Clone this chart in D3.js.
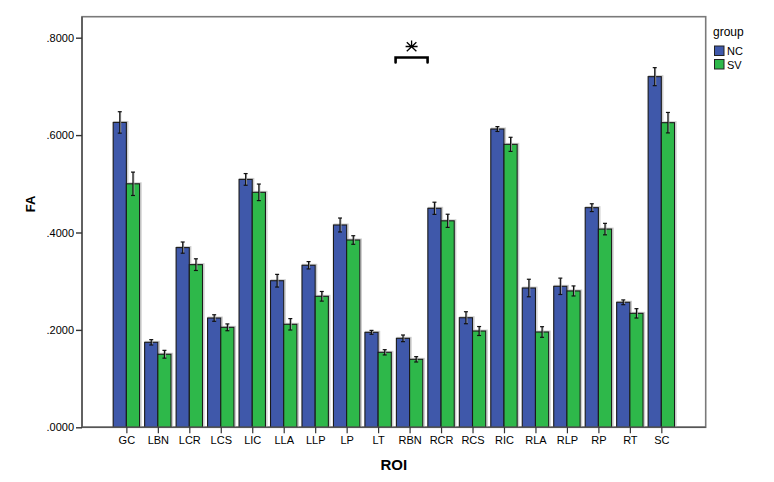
<!DOCTYPE html>
<html><head><meta charset="utf-8">
<script src="https://cdn.jsdelivr.net/npm/d3@7"></script>
<style>body{margin:0;background:#fff}svg{display:block}text{font-family:"Liberation Sans",Arial,sans-serif}</style>
</head><body>
<script>
const categories = ["GC","LBN","LCR","LCS","LIC","LLA","LLP","LP","LT","RBN","RCR","RCS","RIC","RLA","RLP","RP","RT","SC"];
const groups = ["NC","SV"];
const ncMean = [0.626,0.1745,0.369,0.2244,0.509,0.301,0.3327,0.4154,0.195,0.1827,0.4497,0.225,0.6125,0.286,0.2895,0.451,0.2567,0.720];
const ncErr  = [0.022,0.0055,0.0115,0.0067,0.012,0.013,0.0075,0.0143,0.004,0.0068,0.0125,0.0123,0.005,0.018,0.0168,0.008,0.0049,0.0185];
const svMean = [0.500,0.150,0.334,0.2053,0.4825,0.2115,0.269,0.3846,0.154,0.1396,0.424,0.1977,0.581,0.1957,0.280,0.407,0.234,0.6255];
const svErr  = [0.024,0.008,0.012,0.007,0.017,0.0117,0.0099,0.0088,0.0054,0.0055,0.0135,0.0092,0.0145,0.0109,0.0103,0.0118,0.0096,0.021];
const yTicks = [0,0.2,0.4,0.6,0.8];
const sigCategory = "RBN";

const W=774,H=482;
const L=82,R=705.7,T=16.7,B=427.3;
const svg=d3.select("body").append("svg").attr("width",W).attr("height",H);
const x=d3.scalePoint().domain(categories).range([L,R]).padding(1.41);
const y=d3.scaleLinear().domain([0,0.8431]).range([B,T]);
const bw=13.2;
const colors={NC:"#3f58aa",SV:"#2eb84a"};

// frame
svg.append("rect").attr("x",L).attr("y",T).attr("width",R-L).attr("height",B-T)
  .attr("fill","none").attr("stroke","#7a7a7a").attr("stroke-width",1.6);

const data=[];
categories.forEach((c,i)=>{
  data.push({c,g:"NC",m:ncMean[i],e:ncErr[i],off:-bw});
  data.push({c,g:"SV",m:svMean[i],e:svErr[i],off:0});
});

// shadows
svg.append("g").selectAll("rect").data(data).join("rect")
  .attr("x",d=>x(d.c)+d.off+0.8).attr("y",d=>y(d.m)-0.8)
  .attr("width",bw+0.6).attr("height",d=>B-y(d.m)+0.8)
  .attr("fill","none").attr("stroke","#cdcdcd").attr("stroke-width",1.4);
// bars
svg.append("g").selectAll("rect").data(data).join("rect")
  .attr("x",d=>x(d.c)+d.off).attr("y",d=>y(d.m))
  .attr("width",bw).attr("height",d=>B-y(d.m))
  .attr("fill",d=>colors[d.g]).attr("stroke","#1a1a1a").attr("stroke-width",1.1);

// error bars
const eg=svg.append("g").attr("stroke","#111").attr("stroke-width",1.2);
data.forEach(d=>{
  const cx=x(d.c)+d.off+bw/2;
  eg.append("line").attr("x1",cx+0.8).attr("x2",cx+0.8).attr("y1",y(d.m+d.e)).attr("y2",y(d.m-d.e)).attr("stroke","#aaa").attr("stroke-width",1.2);
  eg.append("line").attr("x1",cx).attr("x2",cx).attr("y1",y(d.m+d.e)).attr("y2",y(d.m-d.e));
  [d.m+d.e,d.m-d.e].forEach(v=>eg.append("line").attr("x1",cx-2).attr("x2",cx+2).attr("y1",y(v)).attr("y2",y(v)));
});

// y axis
const ya=svg.append("g").attr("transform",`translate(${L},0)`)
  .call(d3.axisLeft(y).tickValues(yTicks).tickSize(6).tickPadding(2).tickFormat(d=>d3.format(".4f")(d).replace(/^0/,"")));
ya.select(".domain").attr("stroke","#555").attr("stroke-width",1.6).attr("d",`M0,${T}V${B}`);
ya.selectAll(".tick line").attr("stroke","#333").attr("stroke-width",1.4);
ya.selectAll(".tick text").attr("font-size",11).attr("fill","#000").attr("font-family","Liberation Sans, Arial, sans-serif");

// x axis
const xa=svg.append("g").attr("transform",`translate(0,${B})`)
  .call(d3.axisBottom(x).tickSize(6).tickPadding(3));
xa.select(".domain").attr("stroke","#555").attr("stroke-width",1.6).attr("d",`M${L},0H${R}`);
xa.selectAll(".tick line").attr("stroke","#333").attr("stroke-width",1.2);
xa.selectAll(".tick text").attr("font-size",11).attr("fill","#000").attr("font-family","Liberation Sans, Arial, sans-serif");

// axis titles
svg.append("text").attr("x",(L+R)/2).attr("y",470).attr("text-anchor","middle")
  .attr("font-size",15).attr("font-weight","bold").text("ROI");
svg.append("text").attr("transform","translate(35,204) rotate(-90)").attr("text-anchor","middle")
  .attr("font-size",13).attr("font-weight","bold").text("FA");

// significance bracket
const sx=x(sigCategory)+2;
const bx0=sx-16,bx1=sx+16,byy=57.5;
svg.append("path").attr("d",`M${bx0},${byy+5}V${byy}H${bx1}V${byy+5}`)
  .attr("fill","none").attr("stroke","#000").attr("stroke-width",2.6).attr("stroke-linecap","round");
// asterisk glyph
const ax=sx, ay=46.5, r=6;
svg.append("path").attr("d",
  `M${ax},${ay-r}V${ay} M${ax-r},${ay}H${ax+r} M${ax-r*0.8},${ay-r*0.7}L${ax+r*0.8},${ay+r*0.8} M${ax+r*0.8},${ay-r*0.7}L${ax-r*0.8},${ay+r*0.8}`)
  .attr("fill","none").attr("stroke","#000").attr("stroke-width",1.3);

// legend
svg.append("text").attr("x",713).attr("y",36).attr("font-size",12).text("group");
groups.forEach((g,i)=>{
  svg.append("rect").attr("x",714.5).attr("y",46+i*13.5).attr("width",9.5).attr("height",9.5)
    .attr("fill",colors[g]).attr("stroke","#222").attr("stroke-width",1);
  svg.append("text").attr("x",727).attr("y",55+i*13.5).attr("font-size",11).text(g);
});
</script>
</body></html>
